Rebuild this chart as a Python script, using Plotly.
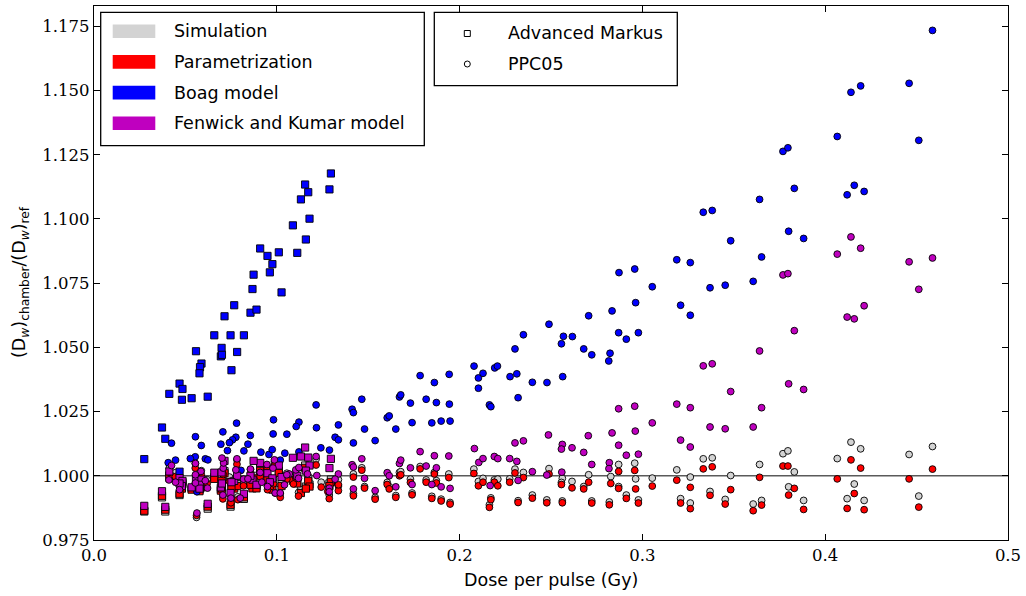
import plotly.graph_objects as go

# ---------------- data ----------------
# Advanced Markus chamber (squares): dose per pulse and ratio for each model
MARKUS_DOSE = [0.1296, 0.1288, 0.1155, 0.1172, 0.1132, 0.1179, 0.1088, 0.1159, 0.0909, 0.0949,
               0.1011, 0.1112, 0.0976, 0.0962, 0.0873, 0.0867, 0.1026, 0.0767, 0.0714, 0.0856,
               0.0889, 0.0658, 0.0747, 0.0820, 0.0558, 0.0698, 0.0694, 0.0700, 0.0783, 0.0588,
               0.0580, 0.0577, 0.0752, 0.0468, 0.0484, 0.0412, 0.0481, 0.0534, 0.0622, 0.0372,
               0.0390, 0.0275, 0.0468]
MARKUS_BOAG = [1.1177, 1.1115, 1.1134, 1.1104, 1.1076, 1.1001, 1.0975, 1.0920, 1.0885, 1.0856,
               1.0870, 1.0868, 1.0824, 1.0792, 1.0783, 1.0727, 1.0714, 1.0664, 1.0621, 1.0635,
               1.0647, 1.0547, 1.0547, 1.0547, 1.0485, 1.0498, 1.0465, 1.0471, 1.0482, 1.0437,
               1.0423, 1.0399, 1.0411, 1.0359, 1.0338, 1.0319, 1.0296, 1.0302, 1.0308, 1.0188,
               1.0144, 1.0065, 1.0016]
MARKUS_FK = [1.0066, 1.0030, 1.0110, 1.0071, 1.0075, 1.0040, 1.0070, 1.0020, 1.0050, 1.0010,
             1.0040, 1.0000, 0.9990, 0.9975, 1.0058, 0.9985, 0.9995, 0.9980, 1.0058, 1.0000,
             0.9965, 1.0012, 0.9933, 0.9930, 0.9990, 1.0013, 0.9955, 0.9970, 1.0000, 0.9985,
             0.9965, 0.9950, 0.9975, 0.9991, 0.9980, 1.0017, 0.9960, 0.9955, 0.9891, 0.9940,
             0.9879, 0.9883, 0.9970]
MARKUS_PARAM = [0.9976, 0.9960, 1.0031, 0.9979, 0.9933, 0.9958, 0.9981, 0.9950, 1.0019, 0.9984,
                1.0011, 0.9970, 0.9946, 0.9961, 0.9990, 0.9951, 0.9960, 0.9950, 1.0010, 0.9965,
                0.9951, 0.9988, 0.9887, 0.9916, 0.9960, 0.9980, 0.9942, 0.9950, 0.9960, 0.9955,
                0.9950, 0.9940, 0.9955, 0.9975, 0.9968, 1.0000, 0.9950, 0.9946, 0.9880, 0.9922,
                0.9868, 0.9864, 0.9930]
MARKUS_SIM = [0.9985, 0.9970, 1.0040, 0.9990, 0.9945, 0.9966, 0.9990, 0.9958, 1.0028, 0.9992,
              1.0020, 0.9978, 0.9955, 0.9968, 1.0000, 0.9958, 0.9968, 0.9958, 1.0018, 0.9972,
              0.9958, 0.9995, 0.9880, 0.9910, 0.9965, 0.9988, 0.9948, 0.9955, 0.9968, 0.9962,
              0.9955, 0.9945, 0.9962, 0.9980, 0.9975, 0.9992, 0.9955, 0.9950, 0.9872, 0.9916,
              0.9861, 0.9861, 0.9925]

# PPC05 chamber (circles)
PPC_BOAG_X = [0.3188, 0.3209, 0.3262, 0.3262, 0.3333, 0.3382, 0.3370, 0.3453, 0.3483, 0.3606,
              0.3641, 0.3652, 0.3769, 0.3796, 0.3831, 0.3800, 0.3882, 0.4066, 0.4141, 0.4194,
              0.4159, 0.4120, 0.4213, 0.4459, 0.4587, 0.4512,
              0.1784, 0.1862, 0.1943, 0.2079, 0.2103, 0.2128, 0.2103, 0.2192, 0.2207, 0.2276,
              0.2313, 0.2303, 0.2349, 0.2398, 0.2478, 0.2489, 0.2564, 0.2557, 0.2568, 0.2617,
              0.2679, 0.2723, 0.2706, 0.2823, 0.2816, 0.2834, 0.2872, 0.2958, 0.3054, 0.2963,
              0.2870, 0.2912, 0.2978,
              0.2163, 0.2171, 0.2320, 0.1671, 0.1678, 0.1731, 0.1817, 0.1873, 0.1944, 0.1465,
              0.1412, 0.1419, 0.1604, 0.1615, 0.1740, 0.1848, 0.1899, 0.1948, 0.1651, 0.1480,
              0.1538, 0.1419,
              0.1215, 0.0982, 0.1121, 0.1106, 0.0780, 0.0705, 0.0980, 0.1055, 0.1217, 0.1337,
              0.1319, 0.1337, 0.0855, 0.0776, 0.0758, 0.0741, 0.0694, 0.0842, 0.0730, 0.0820,
              0.0913, 0.0957, 0.0975, 0.1019, 0.1044, 0.1121, 0.1241, 0.1288, 0.0804, 0.0555,
              0.0424, 0.0587, 0.0554, 0.0609, 0.0623, 0.0527, 0.0446, 0.0406, 0.0563]
PPC_BOAG_Y = [1.0841, 1.0664, 1.0830, 1.0625, 1.1026, 1.1033, 1.0732, 1.0742, 1.0915, 1.0757,
              1.1076, 1.0852, 1.1263, 1.1277, 1.1119, 1.0952, 1.0924, 1.1321, 1.1493, 1.1518,
              1.1131, 1.1094, 1.1107, 1.1528, 1.1734, 1.1306,
              1.0390, 1.0363, 1.0395, 1.0427, 1.0381, 1.0399, 1.0341, 1.0420, 1.0427, 1.0386,
              1.0397, 1.0494, 1.0549, 1.0364, 1.0363, 1.0590, 1.0386, 1.0514, 1.0543, 1.0542,
              1.0494, 1.0471, 1.0623, 1.0477, 1.0447, 1.0642, 1.0791, 1.0805, 1.0736, 1.0674,
              1.0557, 1.0532, 1.0557,
              1.0276, 1.0269, 1.0304, 1.0307, 1.0315, 1.0283, 1.0298, 1.0285, 1.0279, 1.0298,
              1.0259, 1.0246, 1.0226, 1.0233, 1.0207, 1.0206, 1.0213, 1.0213, 1.0182, 1.0182,
              1.0137, 1.0128,
              1.0276, 1.0218, 1.0209, 1.0192, 1.0205, 1.0171, 1.0163, 1.0162, 1.0187, 1.0198,
              1.0150, 1.0140, 1.0157, 1.0150, 1.0140, 1.0129, 1.0123, 1.0123, 1.0098, 1.0097,
              1.0092, 1.0083, 1.0102, 1.0061, 1.0088, 1.0093, 1.0109, 1.0100, 1.0021, 1.0152,
              1.0127, 1.0118, 1.0074, 1.0066, 1.0062, 1.0067, 1.0061, 1.0051, 0.9938]

PPC_FK_X = [0.3188, 0.3209, 0.3262, 0.3262, 0.3333, 0.3382, 0.3370, 0.3453, 0.3483, 0.3606,
            0.3641, 0.3652, 0.3769, 0.3796, 0.3831, 0.3800, 0.3882, 0.4066, 0.4141, 0.4194,
            0.4159, 0.4120, 0.4213, 0.4459, 0.4587, 0.4512,
            0.2486, 0.2303, 0.2349, 0.2081, 0.2105, 0.2128, 0.2190, 0.2209, 0.2274, 0.2313,
            0.2870, 0.2958, 0.3054, 0.2834, 0.2961, 0.2870, 0.2704, 0.2562, 0.2557, 0.2615,
            0.2679, 0.2912, 0.2978, 0.2723, 0.2819, 0.2817, 0.2398, 0.2320, 0.2167, 0.2477,
            0.2559, 0.1784, 0.1862, 0.1941, 0.1671, 0.1678, 0.1731, 0.1817, 0.1873, 0.1465,
            0.1412, 0.1419, 0.1604, 0.1615, 0.1740, 0.1848, 0.1899, 0.1948, 0.1651, 0.1480,
            0.1538, 0.1419,
            0.0424, 0.0410, 0.0446, 0.0468, 0.0555, 0.0585, 0.0555, 0.0609, 0.0621, 0.0563,
            0.0707, 0.0776, 0.0782, 0.0705, 0.0749, 0.0800, 0.0818, 0.0842, 0.0856, 0.0909,
            0.0946, 0.0979, 0.0987, 0.0991, 0.1019, 0.1042, 0.1068, 0.1104, 0.1119, 0.1168,
            0.1215, 0.1219, 0.1287, 0.1337, 0.1319, 0.0555, 0.0709, 0.0918, 0.0949, 0.1055,
            0.1121, 0.1287, 0.0700]
PPC_FK_Y = [1.0279, 1.0139, 1.0265, 1.0112, 1.0428, 1.0436, 1.0190, 1.0183, 1.0328, 1.0190,
            1.0486, 1.0265, 1.0782, 1.0787, 1.0565, 1.0358, 1.0336, 1.0863, 1.0930, 1.0886,
            1.0611, 1.0618, 1.0662, 1.0833, 1.0848, 1.0726,
            1.0159, 1.0128, 1.0136, 1.0106, 1.0052, 1.0067, 1.0075, 1.0067, 1.0067, 1.0056,
            1.0261, 1.0271, 1.0206, 1.0167, 1.0174, 1.0119, 1.0156, 1.0122, 1.0104, 1.0109,
            1.0091, 1.0080, 1.0084, 1.0044, 1.0051, 1.0028, 1.0016, 0.9982, 0.9962, 1.0003,
            1.0014, 1.0094, 1.0078, 1.0077, 1.0048, 1.0061, 1.0031, 1.0038, 1.0031, 1.0066,
            1.0043, 1.0034, 1.0012, 1.0000, 0.9966, 0.9966, 0.9957, 0.9951, 0.9957, 0.9990,
            0.9942, 0.9949,
            1.0040, 0.9984, 0.9975, 0.9946, 1.0048, 1.0017, 0.9972, 0.9981, 0.9952, 0.9855,
            1.0030, 1.0023, 1.0066, 0.9925, 0.9913, 0.9913, 0.9987, 0.9988, 1.0026, 1.0013,
            1.0044, 1.0030, 1.0062, 0.9933, 0.9933, 0.9965, 1.0007, 1.0023, 0.9990, 1.0007,
            1.0075, 1.0001, 0.9952, 1.0007, 0.9987, 1.0004, 1.0050, 0.9975, 0.9958, 1.0004,
            1.0032, 0.9938, 1.0069]

PPC_PARAM_X = [0.3188, 0.3209, 0.3262, 0.3262, 0.3333, 0.3382, 0.3370, 0.3453, 0.3483, 0.3606,
               0.3641, 0.3652, 0.3769, 0.3796, 0.3831, 0.3800, 0.3882, 0.4066, 0.4141, 0.4194,
               0.4159, 0.4120, 0.4213, 0.4459, 0.4587, 0.4512,
               0.1465, 0.1419, 0.1419, 0.1480, 0.1538, 0.1604, 0.1615, 0.1651, 0.1671, 0.1678,
               0.1731, 0.1740, 0.1784, 0.1817, 0.1848, 0.1862, 0.1873, 0.1899, 0.1941, 0.1948,
               0.2078, 0.2103, 0.2128, 0.2163, 0.2171, 0.2190, 0.2209, 0.2274, 0.2303, 0.2320,
               0.2349, 0.2398, 0.2477, 0.2489, 0.2557, 0.2562, 0.2615, 0.2679, 0.2706, 0.2723,
               0.2819, 0.2827, 0.2870, 0.2870, 0.2912, 0.2958, 0.2963, 0.2978, 0.3054,
               0.1055, 0.1104, 0.1215, 0.1243, 0.1287, 0.1337, 0.1119, 0.0741, 0.0787, 0.0982,
               0.0949, 0.1091, 0.1279, 0.1337, 0.0993, 0.1019, 0.0412, 0.0445, 0.0554, 0.0554,
               0.0587, 0.0470, 0.0619, 0.0561, 0.0707, 0.0782, 0.0856, 0.0909, 0.0946, 0.0987,
               0.0818, 0.0705, 0.0749]
PPC_PARAM_Y = [0.9983, 0.9894, 0.9955, 0.9872, 1.0027, 1.0035, 0.9924, 0.9890, 0.9946, 0.9864,
               0.9994, 0.9886, 1.0038, 1.0038, 0.9951, 0.9925, 0.9869, 0.9988, 1.0062, 1.0030,
               0.9931, 0.9873, 0.9868, 0.9988, 1.0026, 0.9878,
               1.0022, 0.9995, 0.9922, 0.9952, 0.9909, 0.9966, 0.9949, 0.9916, 1.0000, 1.0004,
               0.9974, 0.9926, 1.0027, 0.9975, 0.9912, 1.0007, 0.9972, 0.9902, 0.9993, 0.9890,
               1.0009, 0.9961, 0.9975, 0.9877, 0.9907, 0.9975, 0.9961, 0.9975, 1.0011, 0.9896,
               0.9993, 0.9913, 0.9895, 1.0007, 0.9966, 0.9895, 0.9953, 0.9949, 0.9975, 0.9894,
               0.9887, 0.9970, 1.0017, 0.9951, 0.9912, 1.0021, 0.9949, 0.9894, 0.9960,
               0.9987, 0.9991, 1.0042, 0.9956, 0.9911, 0.9942, 0.9921, 0.9978, 0.9907, 0.9969,
               0.9946, 0.9968, 0.9939, 0.9965, 0.9933, 0.9916, 1.0014, 0.9997, 1.0030, 0.9956,
               1.0004, 0.9957, 0.9970, 0.9846, 1.0005, 1.0045, 1.0008, 0.9996, 1.0023, 1.0039,
               0.9961, 0.9910, 0.9895]

PPC_SIM_X = [0.3188, 0.3209, 0.3262, 0.3262, 0.3333, 0.3382, 0.3370, 0.3453, 0.3483, 0.3606,
             0.3641, 0.3652, 0.3769, 0.3796, 0.3831, 0.3800, 0.3882, 0.4066, 0.4141, 0.4194,
             0.4159, 0.4120, 0.4213, 0.4459, 0.4587, 0.4512,
             0.2078, 0.2103, 0.2128, 0.2190, 0.2209, 0.2303, 0.2349, 0.2489, 0.2562, 0.2615,
             0.2706, 0.2827, 0.2870, 0.2958, 0.2963, 0.3054, 0.2398, 0.2477, 0.2562, 0.2723,
             0.2819, 0.2912, 0.2978, 0.2163, 0.2171, 0.2320, 0.1948, 0.1899, 0.1848, 0.1740,
             0.1651, 0.1538, 0.1419, 0.1480, 0.1604, 0.1615, 0.1731, 0.1817, 0.1873, 0.1941,
             0.1784, 0.1862, 0.1671, 0.1678, 0.1465, 0.1419, 0.2557, 0.2679, 0.2870, 0.2274,
             0.1055, 0.1104, 0.1215, 0.1243, 0.1287, 0.1337, 0.1119, 0.0741, 0.0787, 0.0982,
             0.0949, 0.1091, 0.1337, 0.0993, 0.1019, 0.0412, 0.0445, 0.0554, 0.0554, 0.0587,
             0.0470, 0.0619, 0.0561, 0.0707, 0.0782, 0.0856, 0.0909, 0.0946, 0.0987, 0.0818,
             0.0705, 0.0749]
PPC_SIM_Y = [1.0023, 0.9911, 0.9995, 0.9894, 1.0066, 1.0070, 0.9939, 0.9908, 1.0001, 0.9890,
             1.0044, 0.9904, 1.0086, 1.0097, 1.0015, 0.9957, 0.9904, 1.0067, 1.0131, 1.0105,
             0.9968, 0.9911, 0.9904, 1.0083, 1.0114, 0.9921,
             1.0026, 0.9978, 0.9990, 0.9984, 0.9987, 1.0026, 1.0013, 1.0028, 0.9990, 0.9978,
             1.0004, 0.9997, 1.0044, 1.0049, 0.9988, 0.9991, 0.9925, 0.9906, 0.9902, 0.9902,
             0.9898, 0.9925, 0.9906, 0.9887, 0.9914, 0.9903, 0.9896, 0.9909, 0.9920, 0.9933,
             0.9923, 0.9916, 0.9930, 0.9958, 0.9974, 0.9958, 0.9987, 0.9984, 0.9981, 1.0007,
             1.0036, 1.0013, 1.0013, 1.0016, 1.0031, 1.0007, 0.9974, 0.9958, 0.9958, 0.9988,
             1.0010, 1.0012, 1.0065, 0.9975, 0.9925, 0.9960, 0.9935, 0.9995, 0.9918, 0.9988,
             0.9960, 0.9985, 0.9985, 0.9948, 0.9930, 1.0030, 1.0012, 1.0048, 0.9968, 1.0020,
             0.9968, 0.9985, 0.9838, 1.0022, 1.0062, 1.0025, 1.0012, 1.0040, 1.0055, 0.9975,
             0.9922, 0.9905]

REF_LEVEL = 1.0
X_TICKS = [0.0, 0.1, 0.2, 0.3, 0.4, 0.5]
Y_TICKS = [0.975, 1.000, 1.025, 1.050, 1.075, 1.100, 1.125, 1.150, 1.175]
LEGEND_MODELS = ["Simulation", "Parametrization", "Boag model", "Fenwick and Kumar model"]
LEGEND_CHAMBERS = ["Advanced Markus", "PPC05"]

# ---------------- style ----------------
GREY, RED, BLUE, MAG = "#d3d3d3", "#ff0000", "#0000ff", "#bf00bf"
MODEL_COLORS = [GREY, RED, BLUE, MAG]
W, H = 1026, 596
ML, MR, MT, MB = 94, 18, 6, 56
PW, PH = W - ML - MR, H - MT - MB
SANS = "DejaVu Sans"
SERIF = "DejaVu Serif"


def fx(px):
    return (px - ML) / PW


def fy(py):
    return (H - MB - py) / PH


fig = go.Figure()


def add(x, y, color, symbol, size):
    fig.add_trace(go.Scatter(
        x=x, y=y, mode="markers", showlegend=False, hoverinfo="skip",
        marker=dict(symbol=symbol, size=size, color=color,
                    line=dict(color="black", width=0.9))))


SQ, CI = 7.2, 6.8
add(MARKUS_DOSE, MARKUS_SIM, GREY, "square", SQ)
add(PPC_SIM_X, PPC_SIM_Y, GREY, "circle", CI)
add(MARKUS_DOSE, MARKUS_PARAM, RED, "square", SQ)
add(PPC_PARAM_X, PPC_PARAM_Y, RED, "circle", CI)
add(MARKUS_DOSE, MARKUS_BOAG, BLUE, "square", SQ)
add(PPC_BOAG_X, PPC_BOAG_Y, BLUE, "circle", CI)
add(MARKUS_DOSE, MARKUS_FK, MAG, "square", SQ)
add(PPC_FK_X, PPC_FK_Y, MAG, "circle", CI)

shapes = [dict(type="line", xref="paper", yref="y", x0=0, x1=1, y0=REF_LEVEL, y1=REF_LEVEL,
               line=dict(color="#5a5a5a", width=1.6), layer="below")]
annotations = []

# legend 1 (models)
shapes.append(dict(type="rect", xref="paper", yref="paper", x0=fx(100.7), x1=fx(424.3),
                   y0=fy(145.7), y1=fy(12.3), fillcolor="white",
                   line=dict(color="black", width=1.3), layer="above"))
for i, (name, col) in enumerate(zip(LEGEND_MODELS, MODEL_COLORS)):
    cy = 31.2 + i * 30.7
    shapes.append(dict(type="rect", xref="paper", yref="paper", x0=fx(112.7), x1=fx(155.3),
                       y0=fy(cy + 6.8), y1=fy(cy - 6.8), fillcolor=col,
                       line=dict(width=0), layer="above"))
    annotations.append(dict(xref="paper", yref="paper", x=fx(172), y=fy(cy), text=name,
                            showarrow=False, xanchor="left", yanchor="middle",
                            font=dict(family=SANS, size=17.5, color="black")))

# legend 2 (chambers)
shapes.append(dict(type="rect", xref="paper", yref="paper", x0=fx(434.3), x1=fx(677.3),
                   y0=fy(85.7), y1=fy(12.3), fillcolor="white",
                   line=dict(color="black", width=1.3), layer="above"))
for i, name in enumerate(LEGEND_CHAMBERS):
    cy = 33.5 + i * 30.5
    shapes.append(dict(type="rect" if i == 0 else "circle", xref="paper", yref="paper",
                       x0=fx(464.3), x1=fx(470.3), y0=fy(cy + 3), y1=fy(cy - 3),
                       fillcolor="white", line=dict(color="black", width=1), layer="above"))
    annotations.append(dict(xref="paper", yref="paper", x=fx(506), y=fy(cy), text=name,
                            showarrow=False, xanchor="left", yanchor="middle",
                            font=dict(family=SANS, size=17.5, color="black")))

# axis titles
annotations.append(dict(xref="paper", yref="paper", x=fx(551), y=fy(580),
                        text="Dose per pulse (Gy)", showarrow=False,
                        xanchor="center", yanchor="middle",
                        font=dict(family=SANS, size=17.5, color="black")))
annotations.append(dict(xref="paper", yref="paper", x=fx(21), y=fy(282),
                        text="(D<sub><i>w</i></sub>)<sub>chamber</sub>/(D<sub><i>w</i></sub>)<sub>ref</sub>",
                        showarrow=False, textangle=-90, xanchor="center", yanchor="middle",
                        font=dict(family=SANS, size=17.5, color="black")))

axis_common = dict(showgrid=False, zeroline=False, showline=True, linecolor="black",
                   linewidth=1.3, mirror="ticks", ticks="inside", ticklen=6, tickwidth=1,
                   tickcolor="black", tickfont=dict(family=SERIF, size=16.5, color="black"))

fig.update_layout(
    width=W, height=H, margin=dict(l=ML, r=MR, t=MT, b=MB, autoexpand=False),
    paper_bgcolor="white", plot_bgcolor="white", showlegend=False,
    xaxis=dict(range=[0, 0.5], tickvals=X_TICKS, tickformat=".1f", **axis_common),
    yaxis=dict(range=[0.975, 1.1829], tickvals=Y_TICKS, tickformat=".3f", **axis_common),
    shapes=shapes, annotations=annotations,
)

fig.write_html("out.html")
